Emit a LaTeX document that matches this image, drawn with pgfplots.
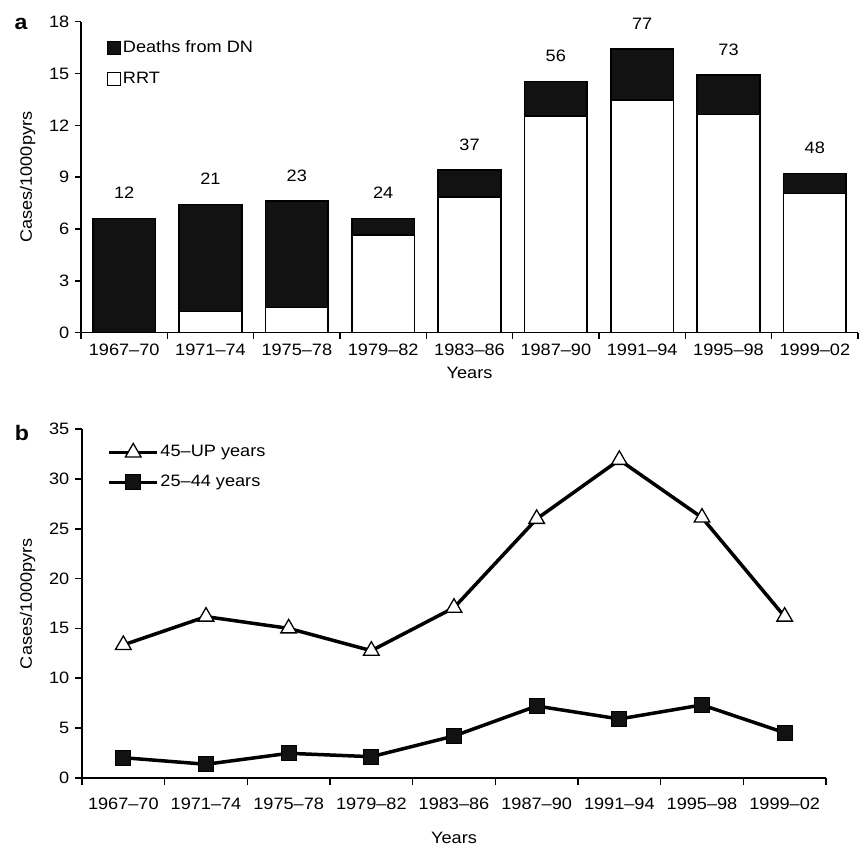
\documentclass[border=0pt]{standalone}
\usepackage{fontspec}
\setmainfont{Liberation Sans}[FakeStretch=1.1]
\usepackage{pgfplots}
\pgfplotsset{compat=1.18}
\begin{document}
\fontsize{16.5bp}{19.8bp}\selectfont
\begin{tikzpicture}
\path (0,0) rectangle (867bp,852bp);
\node[font=\fontsize{21bp}{24bp}\selectfont\bfseries] at (21bp,828bp) {a};
\node[font=\fontsize{21bp}{24bp}\selectfont\bfseries] at (22bp,419bp) {b};
\pgfplotsset{
  every axis/.append style={
    font=\fontsize{16.5bp}{19.8bp}\selectfont,
    /pgf/number format/assume math mode=true,
    scale only axis,
    axis lines*=left,
    axis line style={line width=1.6bp,-},
    tick style={line width=1.6bp,black},
    tick align=outside,
    major tick length=6bp,
    xtick={-0.5,0.5,...,8.5},
    x tick label as interval,
    xticklabels={1967–70,1971–74,1975–78,1979–82,1983–86,1987–90,1991–94,1995–98,1999–02},
    xmin=-0.5, xmax=8.5,
    ymin=0,
    xlabel={Years},
    ylabel={Cases/1000pyrs},
    ylabel style={yshift=2.5bp},
  }
}
% ---- panel a ----
\begin{axis}[
  at={(81bp,519.3bp)}, anchor=south west,
  width=777bp, height=311bp,
  ymax=18, ytick={0,3,...,18},
  ybar stacked, bar width=62.7bp,
  legend style={draw=none, fill=none, at={(axis description cs:0.0335,0.945)}, anchor=north west,
    inner sep=0pt, row sep=14bp, nodes={inner sep=1.5bp}},
  legend cell align=left,
  reverse legend,
]
\addplot[fill=white, draw=black, line width=1.5bp,
  legend image code/.code={\draw[fill=white,line width=1.2bp] (0bp,-6.5bp) rectangle (13bp,6.5bp);}]
  coordinates {(0,0) (1,1.22) (2,1.45) (3,5.65) (4,7.84) (5,12.54) (6,13.47) (7,12.64) (8,8.07)};
\addlegendentry{RRT}
\addplot[fill=black!93, draw=black, line width=1.5bp,
  legend image code/.code={\draw[fill=black!93,line width=1.2bp] (0bp,-6.5bp) rectangle (13bp,6.5bp);}]
  coordinates {(0,6.62) (1,6.19) (2,6.17) (3,0.97) (4,1.58) (5,1.99) (6,2.95) (7,2.27) (8,1.13)};
\addlegendentry{Deaths from DN}
\end{axis}
% ---- case counts above the bars ----
\begin{axis}[
  at={(81bp,519.3bp)}, anchor=south west,
  width=777bp, height=311bp,
  ymax=18, hide axis,
]
\addplot[only marks, mark=none,
  point meta=explicit symbolic, nodes near coords,
  every node near coord/.append style={anchor=south, inner sep=0pt, yshift=19.5bp, text=black}]
  coordinates {(0,6.62)[12] (1,7.41)[21] (2,7.62)[23] (3,6.62)[24] (4,9.42)[37] (5,14.53)[56] (6,16.42)[77] (7,14.91)[73] (8,9.20)[48]};
\end{axis}
% ---- panel b ----
\begin{axis}[
  at={(82bp,74.3bp)}, anchor=south west,
  width=744bp, height=348.4bp,
  ymax=35, ytick={0,5,...,35},
  major tick length=7bp,
  xticklabel style={yshift=-8bp},
  xlabel style={yshift=-11bp},
  legend style={draw=none, fill=none, at={(axis description cs:0.034,0.96)}, anchor=north west,
    inner sep=0pt, row sep=13bp, nodes={inner sep=1.5bp}},
  legend cell align=left,
  legend image code/.code={\draw[mark repeat=2,mark phase=2,#1] plot coordinates {(0bp,0bp) (24bp,0bp) (48bp,0bp)};},
]
\addplot[black, line width=3.5bp, mark=triangle*, mark size=9bp,
  mark options={fill=white, draw=black, line width=1.3bp}]
  coordinates {(0,13.34) (1,16.18) (2,15.0) (3,12.76) (4,17.08) (5,26.0) (6,31.93) (7,26.13) (8,16.18)};
\addlegendentry{45–UP years}
\addplot[black, line width=3.5bp, mark=square*, mark size=7.5bp,
  mark options={fill=black!93, draw=black, line width=1bp}]
  coordinates {(0,2.01) (1,1.35) (2,2.45) (3,2.11) (4,4.19) (5,7.2) (6,5.9) (7,7.31) (8,4.52)};
\addlegendentry{25–44 years}
\end{axis}
\end{tikzpicture}
\end{document}
